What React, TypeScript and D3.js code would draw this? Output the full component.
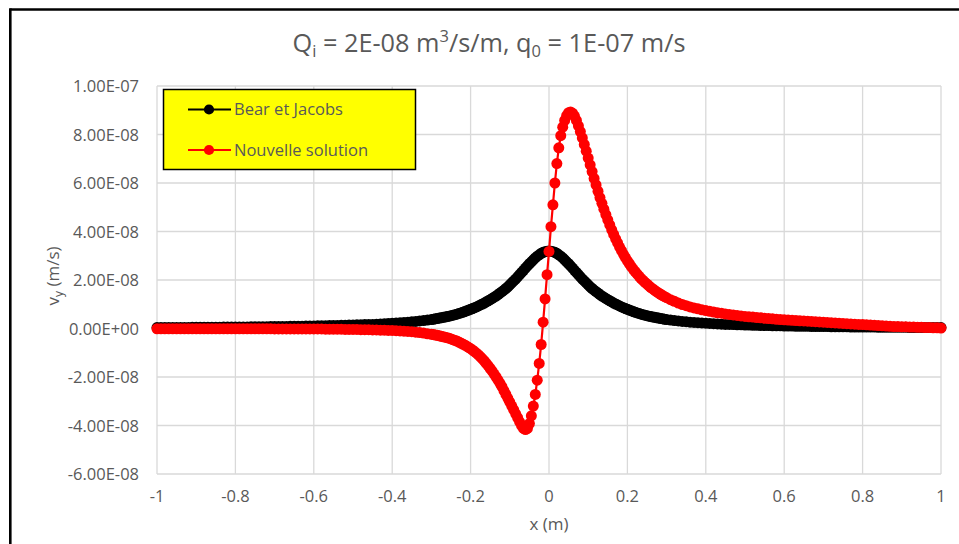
import React from "react";
import * as d3 from "d3";

const UNIT = 1e-8;

// x positions (m)
const xValues = [
  -1.0, -0.99, -0.98, -0.97, -0.96, -0.95, -0.94, -0.93, -0.92, -0.91,
  -0.9, -0.89, -0.88, -0.87, -0.86, -0.85, -0.84, -0.83, -0.82, -0.81,
  -0.8, -0.79, -0.78, -0.77, -0.76, -0.75, -0.74, -0.73, -0.72, -0.71,
  -0.7, -0.69, -0.68, -0.67, -0.66, -0.65, -0.64, -0.63, -0.62, -0.61,
  -0.6, -0.59, -0.58, -0.57, -0.56, -0.55, -0.54, -0.53, -0.52, -0.51,
  -0.5, -0.49, -0.48, -0.47, -0.46, -0.45, -0.44, -0.43, -0.42, -0.41,
  -0.4, -0.39, -0.38, -0.37, -0.36, -0.35, -0.34, -0.33, -0.32, -0.31,
  -0.3, -0.295, -0.29, -0.285, -0.28, -0.275, -0.27, -0.265, -0.26, -0.255,
  -0.25, -0.245, -0.24, -0.235, -0.23, -0.225, -0.22, -0.215, -0.21, -0.205,
  -0.2, -0.195, -0.19, -0.185, -0.18, -0.175, -0.17, -0.165, -0.16, -0.155,
  -0.15, -0.145, -0.14, -0.135, -0.13, -0.125, -0.12, -0.115, -0.11, -0.105,
  -0.1, -0.095, -0.09, -0.085, -0.08, -0.075, -0.07, -0.065, -0.06, -0.055,
  -0.05, -0.045, -0.04, -0.035, -0.03, -0.025, -0.02, -0.015, -0.01, -0.005,
  0,
  0.005, 0.01, 0.015, 0.02, 0.025, 0.03, 0.035, 0.04, 0.045, 0.05,
  0.055, 0.06, 0.065, 0.07, 0.075, 0.08, 0.085, 0.09, 0.095, 0.1,
  0.105, 0.11, 0.115, 0.12, 0.125, 0.13, 0.135, 0.14, 0.145, 0.15,
  0.155, 0.16, 0.165, 0.17, 0.175, 0.18, 0.185, 0.19, 0.195, 0.2,
  0.205, 0.21, 0.215, 0.22, 0.225, 0.23, 0.235, 0.24, 0.245, 0.25,
  0.255, 0.26, 0.265, 0.27, 0.275, 0.28, 0.285, 0.29, 0.295, 0.3,
  0.31, 0.32, 0.33, 0.34, 0.35, 0.36, 0.37, 0.38, 0.39, 0.4,
  0.41, 0.42, 0.43, 0.44, 0.45, 0.46, 0.47, 0.48, 0.49, 0.5,
  0.51, 0.52, 0.53, 0.54, 0.55, 0.56, 0.57, 0.58, 0.59, 0.6,
  0.61, 0.62, 0.63, 0.64, 0.65, 0.66, 0.67, 0.68, 0.69, 0.7,
  0.71, 0.72, 0.73, 0.74, 0.75, 0.76, 0.77, 0.78, 0.79, 0.8,
  0.81, 0.82, 0.83, 0.84, 0.85, 0.86, 0.87, 0.88, 0.89, 0.9,
  0.91, 0.92, 0.93, 0.94, 0.95, 0.96, 0.97, 0.98, 0.99, 1.0,
];

// Bear et Jacobs, v_y in units of 1E-08 m/s
const bearJacobs = [
  0.04, 0.04, 0.04, 0.04, 0.04, 0.04, 0.04, 0.04, 0.04, 0.05,
  0.05, 0.05, 0.05, 0.05, 0.05, 0.05, 0.05, 0.06, 0.06, 0.06,
  0.06, 0.06, 0.06, 0.06, 0.07, 0.07, 0.07, 0.07, 0.07, 0.08,
  0.08, 0.08, 0.08, 0.08, 0.09, 0.09, 0.09, 0.09, 0.1, 0.1,
  0.1, 0.11, 0.11, 0.11, 0.12, 0.12, 0.12, 0.13, 0.13, 0.14,
  0.14, 0.15, 0.15, 0.16, 0.17, 0.17, 0.18, 0.19, 0.2, 0.21,
  0.22, 0.23, 0.24, 0.25, 0.26, 0.28, 0.29, 0.31, 0.33, 0.35,
  0.37, 0.38, 0.4, 0.41, 0.43, 0.44, 0.46, 0.47, 0.49, 0.51,
  0.53, 0.55, 0.57, 0.59, 0.62, 0.64, 0.67, 0.7, 0.73, 0.76,
  0.79, 0.82, 0.86, 0.89, 0.93, 0.97, 1.01, 1.05, 1.1, 1.14,
  1.19, 1.24, 1.29, 1.34, 1.4, 1.46, 1.52, 1.58, 1.65, 1.72,
  1.8, 1.88, 1.96, 2.04, 2.13, 2.22, 2.31, 2.4, 2.49, 2.58,
  2.67, 2.75, 2.83, 2.91, 2.98, 3.04, 3.1, 3.14, 3.17, 3.19,
  3.2,
  3.19, 3.17, 3.14, 3.1, 3.04, 2.98, 2.91, 2.83, 2.75, 2.67,
  2.58, 2.49, 2.4, 2.31, 2.22, 2.13, 2.04, 1.96, 1.88, 1.8,
  1.72, 1.65, 1.58, 1.52, 1.46, 1.4, 1.34, 1.29, 1.24, 1.19,
  1.14, 1.1, 1.05, 1.01, 0.97, 0.93, 0.89, 0.86, 0.82, 0.79,
  0.76, 0.73, 0.7, 0.67, 0.64, 0.62, 0.59, 0.57, 0.55, 0.53,
  0.51, 0.49, 0.47, 0.46, 0.44, 0.43, 0.41, 0.4, 0.38, 0.37,
  0.35, 0.33, 0.31, 0.29, 0.28, 0.26, 0.25, 0.24, 0.23, 0.22,
  0.21, 0.2, 0.19, 0.18, 0.17, 0.17, 0.16, 0.15, 0.15, 0.14,
  0.14, 0.13, 0.13, 0.12, 0.12, 0.12, 0.11, 0.11, 0.11, 0.1,
  0.1, 0.1, 0.09, 0.09, 0.09, 0.09, 0.08, 0.08, 0.08, 0.08,
  0.08, 0.07, 0.07, 0.07, 0.07, 0.07, 0.06, 0.06, 0.06, 0.06,
  0.06, 0.06, 0.06, 0.05, 0.05, 0.05, 0.05, 0.05, 0.05, 0.05,
  0.05, 0.04, 0.04, 0.04, 0.04, 0.04, 0.04, 0.04, 0.04, 0.04,
];

// Nouvelle solution, v_y in units of 1E-08 m/s
const nouvelleSolution = [
  -0.01, -0.01, -0.01, -0.01, -0.01, -0.01, -0.01, -0.01, -0.01, -0.01,
  -0.01, -0.01, -0.01, -0.01, -0.01, -0.01, -0.01, -0.01, -0.01, -0.01,
  -0.01, -0.01, -0.01, -0.01, -0.01, -0.01, -0.01, -0.01, -0.01, -0.01,
  -0.02, -0.02, -0.02, -0.02, -0.02, -0.02, -0.02, -0.02, -0.02, -0.02,
  -0.02, -0.02, -0.02, -0.03, -0.03, -0.03, -0.03, -0.03, -0.04, -0.04,
  -0.04, -0.04, -0.05, -0.05, -0.05, -0.06, -0.06, -0.07, -0.07, -0.08,
  -0.08, -0.09, -0.1, -0.11, -0.12, -0.13, -0.15, -0.17, -0.19, -0.22,
  -0.24, -0.25, -0.27, -0.28, -0.3, -0.32, -0.34, -0.36, -0.38, -0.4,
  -0.43, -0.46, -0.49, -0.52, -0.56, -0.6, -0.64, -0.68, -0.73, -0.78,
  -0.83, -0.89, -0.95, -1.02, -1.09, -1.17, -1.25, -1.34, -1.44, -1.54,
  -1.65, -1.76, -1.88, -2.0, -2.13, -2.26, -2.4, -2.56, -2.72, -2.88,
  -3.04, -3.2, -3.36, -3.52, -3.68, -3.85, -4.0, -4.12, -4.17, -4.12,
  -3.92, -3.6, -3.2, -2.72, -2.13, -1.44, -0.66, 0.26, 1.22, 2.22,
  3.18,
  4.2, 5.1, 6.0, 6.8, 7.45, 7.95, 8.3, 8.58, 8.78, 8.9,
  8.93, 8.88, 8.76, 8.58, 8.36, 8.12, 7.86, 7.59, 7.31, 7.03,
  6.75, 6.47, 6.19, 5.92, 5.66, 5.4, 5.16, 4.92, 4.7, 4.48,
  4.27, 4.07, 3.88, 3.7, 3.53, 3.36, 3.21, 3.06, 2.92, 2.79,
  2.67, 2.55, 2.44, 2.34, 2.24, 2.15, 2.06, 1.98, 1.9, 1.83,
  1.76, 1.69, 1.63, 1.57, 1.51, 1.46, 1.41, 1.36, 1.31, 1.27,
  1.19, 1.12, 1.05, 0.99, 0.94, 0.89, 0.85, 0.81, 0.77, 0.74,
  0.71, 0.68, 0.65, 0.63, 0.6, 0.58, 0.56, 0.54, 0.52, 0.5,
  0.48, 0.47, 0.45, 0.44, 0.42, 0.41, 0.4, 0.38, 0.37, 0.36,
  0.35, 0.34, 0.33, 0.32, 0.31, 0.3, 0.29, 0.28, 0.27, 0.26,
  0.25, 0.24, 0.23, 0.22, 0.21, 0.2, 0.19, 0.18, 0.17, 0.16,
  0.15, 0.14, 0.13, 0.12, 0.11, 0.1, 0.09, 0.08, 0.08, 0.07,
  0.07, 0.06, 0.06, 0.05, 0.05, 0.04, 0.04, 0.03, 0.03, 0.02,
];

const xTicks = [-1, -0.8, -0.6, -0.4, -0.2, 0, 0.2, 0.4, 0.6, 0.8, 1];
const yTicks = [-6, -4, -2, 0, 2, 4, 6, 8, 10]; // units of 1E-08
const seriesNames = ["Bear et Jacobs", "Nouvelle solution"];
const seriesColors = ["#000000", "#FF0000"];

const W = 959;
const H = 544;
const FONT = "'Open Sans', 'Liberation Sans', sans-serif";
const TEXT = "#595959";
const GRID = "#D9D9D9";

function fmtE(v: number): string {
  const actual = v * UNIT;
  if (actual === 0) return "0.00E+00";
  const e = Math.floor(Math.log10(Math.abs(actual)) + 1e-9);
  const m = actual / Math.pow(10, e);
  const sign = e < 0 ? "-" : "+";
  return `${m.toFixed(2)}E${sign}${String(Math.abs(e)).padStart(2, "0")}`;
}

export default function App() {
  const plot = { left: 157, right: 941, top: 86, bottom: 474 };
  const x = d3.scaleLinear().domain([-1, 1]).range([plot.left, plot.right]);
  const y = d3
    .scaleLinear()
    .domain([yTicks[0], yTicks[yTicks.length - 1]])
    .range([plot.bottom, plot.top]);

  const series = [bearJacobs, nouvelleSolution].map((vals, i) => ({
    name: seriesNames[i],
    color: seriesColors[i],
    points: xValues.map((xv, j) => [xv, vals[j]] as [number, number]),
  }));

  const line = d3
    .line<[number, number]>()
    .x((d) => x(d[0]))
    .y((d) => y(d[1]));

  const legend = { x: 163.5, y: 89.5, w: 252, h: 80 };
  const R = 5.5;

  return (
    <svg
      width={W}
      height={H}
      style={{ position: "absolute", left: 0, top: 0, background: "#fff" }}
      fontFamily={FONT}
    >
      <rect x={0} y={0} width={W} height={H} fill="#fff" />
      {/* chart frame */}
      <line x1={10.3} y1={9.5} x2={W} y2={9.5} stroke="#000" strokeWidth={2.6} />
      <line x1={10.3} y1={8.2} x2={10.3} y2={H} stroke="#000" strokeWidth={2.6} />

      {/* title */}
      <text x={489} y={52} textAnchor="middle" fontSize={25.3} fill={TEXT}>
        Q<tspan fontSize={16.5} dy={5}>i</tspan>
        <tspan dy={-5}> = 2E-08 m</tspan>
        <tspan fontSize={16.5} dy={-10}>3</tspan>
        <tspan dy={10}>/s/m, q</tspan>
        <tspan fontSize={16.5} dy={5}>0</tspan>
        <tspan dy={-5}> = 1E-07 m/s</tspan>
      </text>

      {/* gridlines */}
      {yTicks.map((t) => (
        <line
          key={"gy" + t}
          x1={plot.left}
          x2={plot.right}
          y1={y(t)}
          y2={y(t)}
          stroke={GRID}
          strokeWidth={1.3}
        />
      ))}
      {xTicks.map((t) => (
        <line
          key={"gx" + t}
          x1={x(t)}
          x2={x(t)}
          y1={plot.top}
          y2={plot.bottom}
          stroke={GRID}
          strokeWidth={1.3}
        />
      ))}

      {/* y tick labels */}
      {yTicks.map((t) => (
        <text
          key={"ty" + t}
          x={139}
          y={y(t) + 6}
          textAnchor="end"
          fontSize={16.5}
          fill={TEXT}
        >
          {fmtE(t)}
        </text>
      ))}
      {/* x tick labels */}
      {xTicks.map((t) => (
        <text
          key={"tx" + t}
          x={x(t)}
          y={502}
          textAnchor="middle"
          fontSize={16.5}
          fill={TEXT}
        >
          {String(t)}
        </text>
      ))}

      {/* axis titles */}
      <text x={549} y={530} textAnchor="middle" fontSize={17} fill={TEXT}>
        x (m)
      </text>
      <text
        transform={`translate(59,276) rotate(-90)`}
        textAnchor="middle"
        fontSize={17}
        fill={TEXT}
      >
        v<tspan fontSize={12} dy={4}>y</tspan>
        <tspan dy={-4}> (m/s)</tspan>
      </text>

      {/* series */}
      {series.map((s) => (
        <g key={s.name}>
          <path d={line(s.points) || ""} fill="none" stroke={s.color} strokeWidth={2.2} />
          {s.points.map((p, j) => (
            <circle key={j} cx={x(p[0])} cy={y(p[1])} r={R} fill={s.color} />
          ))}
        </g>
      ))}

      {/* legend */}
      <rect
        x={legend.x}
        y={legend.y}
        width={legend.w}
        height={legend.h}
        fill="#FFFF00"
        stroke="#000"
        strokeWidth={1.5}
      />
      {series.map((s, i) => {
        const cy = 109.5 + i * 40.5;
        return (
          <g key={"lg" + s.name}>
            <line x1={188} x2={231} y1={cy} y2={cy} stroke={s.color} strokeWidth={2.2} />
            <circle cx={209} cy={cy} r={5.1} fill={s.color} />
            <text x={234} y={cy + 5.5} fontSize={16.5} fill={TEXT}>
              {s.name}
            </text>
          </g>
        );
      })}
    </svg>
  );
}
